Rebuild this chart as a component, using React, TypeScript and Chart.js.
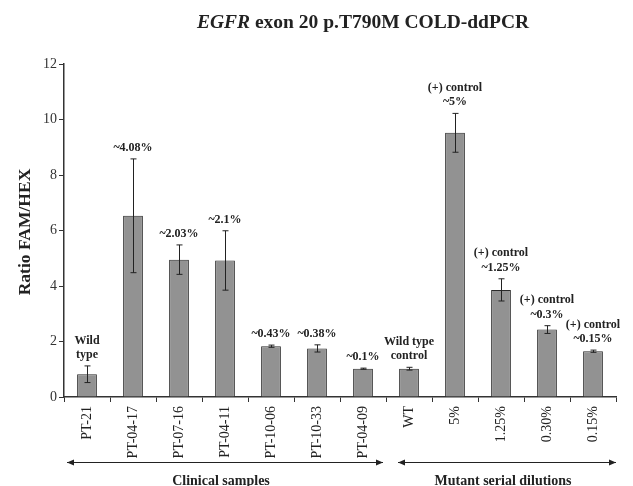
import React, { useEffect, useRef } from "react";
import { Chart, registerables } from "chart.js";

Chart.register(...registerables);

const categories = ["PT-21", "PT-04-17", "PT-07-16", "PT-04-11", "PT-10-06", "PT-10-33", "PT-04-09", "WT", "5%", "1.25%", "0.30%", "0.15%"];
const ratios = [0.82, 6.53, 4.95, 4.92, 1.83, 1.75, 1.02, 1.02, 9.52, 3.86, 2.43, 1.65];
const errors = [0.3, 2.05, 0.53, 1.07, 0.04, 0.13, 0.02, 0.05, 0.7, 0.4, 0.14, 0.04];
const annotations = [
  ["Wild", "type"],
  ["~4.08%"],
  ["~2.03%"],
  ["~2.1%"],
  ["~0.43%"],
  ["~0.38%"],
  ["~0.1%"],
  ["Wild type", "control"],
  ["(+) control", "~5%"],
  ["(+) control", "~1.25%"],
  ["(+) control", "~0.3%"],
  ["(+) control", "~0.15%"],
];
const groups = [
  { label: "Clinical samples", from: 0, to: 6 },
  { label: "Mutant serial dilutions", from: 7, to: 11 },
];
const yTicks = [0, 2, 4, 6, 8, 10, 12];

const SERIF = '"Liberation Serif", "Times New Roman", serif';

const overlay = {
  id: "overlay",
  afterDatasetsDraw(chart: any) {
    const ctx = chart.ctx;
    const x = chart.scales.x;
    const y = chart.scales.y;
    ctx.save();
    // error bars
    ctx.strokeStyle = "#222";
    ctx.lineWidth = 1;
    ratios.forEach((v, i) => {
      const cx = Math.round(x.getPixelForValue(i)) + 0.5;
      const top = y.getPixelForValue(v + errors[i]);
      const bot = y.getPixelForValue(v - errors[i]);
      ctx.beginPath();
      ctx.moveTo(cx, top);
      ctx.lineTo(cx, bot);
      ctx.moveTo(cx - 3, top);
      ctx.lineTo(cx + 3, top);
      ctx.moveTo(cx - 3, bot);
      ctx.lineTo(cx + 3, bot);
      ctx.stroke();
    });
    // annotations
    ctx.fillStyle = "#222";
    ctx.font = `bold 12px ${SERIF}`;
    ctx.textAlign = "center";
    ctx.textBaseline = "middle";
    annotations.forEach((lines, i) => {
      const cx = x.getPixelForValue(i);
      const top = y.getPixelForValue(ratios[i] + errors[i]);
      const n = lines.length;
      lines.forEach((t, j) => {
        ctx.fillText(t, cx, top - 11 - (n - 1 - j) * 14.5);
      });
    });
    // title
    ctx.textBaseline = "middle";
    ctx.textAlign = "left";
    const t1 = "EGFR";
    const t2 = " exon 20 p.T790M COLD-ddPCR";
    ctx.font = `italic bold 19.5px ${SERIF}`;
    const w1 = ctx.measureText(t1).width;
    ctx.font = `bold 19.5px ${SERIF}`;
    const w2 = ctx.measureText(t2).width;
    const tx = 363 - (w1 + w2) / 2;
    ctx.font = `italic bold 19.5px ${SERIF}`;
    ctx.fillText(t1, tx, 23);
    ctx.font = `bold 19.5px ${SERIF}`;
    ctx.fillText(t2, tx + w1, 23);
    // y title
    ctx.save();
    ctx.translate(25, 232);
    ctx.rotate(-Math.PI / 2);
    ctx.textAlign = "center";
    ctx.font = `bold 17.5px ${SERIF}`;
    ctx.fillText("Ratio FAM/HEX", 0, 0);
    ctx.restore();
    // group arrows
    const half = (x.getPixelForValue(1) - x.getPixelForValue(0)) / 2;
    const ay = 462;
    ctx.strokeStyle = "#222";
    ctx.fillStyle = "#222";
    groups.forEach((g, gi) => {
      const x0 = x.getPixelForValue(g.from) - half + (gi === 0 ? 3 : 12);
      const x1 = x.getPixelForValue(g.to) + half - (gi === 0 ? 3 : 0);
      ctx.beginPath();
      ctx.moveTo(x0, ay + 0.5);
      ctx.lineTo(x1, ay + 0.5);
      ctx.stroke();
      ctx.beginPath();
      ctx.moveTo(x0, ay + 0.5);
      ctx.lineTo(x0 + 7, ay - 2.5);
      ctx.lineTo(x0 + 7, ay + 3.5);
      ctx.closePath();
      ctx.fill();
      ctx.beginPath();
      ctx.moveTo(x1, ay + 0.5);
      ctx.lineTo(x1 - 7, ay - 2.5);
      ctx.lineTo(x1 - 7, ay + 3.5);
      ctx.closePath();
      ctx.fill();
      ctx.font = `bold 14px ${SERIF}`;
      ctx.textAlign = "center";
      ctx.fillText(g.label, (x0 + x1) / 2 - 4, 481);
    });
    ctx.restore();
  },
};

export default function App() {
  const ref = useRef<HTMLCanvasElement>(null);
  useEffect(() => {
    if (!ref.current) return;
    const chart = new Chart(ref.current, {
      type: "bar",
      data: {
        labels: categories,
        datasets: [
          {
            data: ratios,
            backgroundColor: "#929292",
            borderColor: "#2a2a2a",
            borderWidth: 1,
            barPercentage: 0.43,
            categoryPercentage: 1,
          },
        ],
      },
      options: {
        responsive: false,
        animation: false,
        layout: { padding: { top: 64, right: 17, left: 0, bottom: 0 } },
        plugins: { legend: { display: false }, title: { display: false }, tooltip: { enabled: false } },
        scales: {
          x: {
            offset: true,
            grid: { display: true, drawOnChartArea: false, drawTicks: true, tickLength: 5, offset: true, color: "#333", lineWidth: 1 },
            border: { display: true, color: "#333", width: 1.5 },
            ticks: {
              minRotation: 90,
              maxRotation: 90,
              autoSkip: false,
              padding: 4,
              color: "#222",
              font: { family: SERIF, size: 14 },
            },
            afterFit: (s: any) => {
              s.height = 89;
            },
          },
          y: {
            min: 0,
            max: 12,
            afterBuildTicks: (s: any) => {
              s.ticks = yTicks.map((v) => ({ value: v }));
            },
            grid: { display: true, drawOnChartArea: false, drawTicks: true, tickLength: 5, color: "#333" },
            border: { display: true, color: "#333", width: 1.5 },
            ticks: { padding: 2, color: "#333", font: { family: SERIF, size: 14 } },
            afterFit: (s: any) => {
              s.width = 64;
            },
          },
        },
      },
      plugins: [overlay],
    });
    return () => chart.destroy();
  }, []);
  return (
    <div style={{ position: "absolute", left: 0, top: 0, width: 633, height: 486, background: "#fff" }}>
      <canvas ref={ref} width={633} height={486} />
    </div>
  );
}
